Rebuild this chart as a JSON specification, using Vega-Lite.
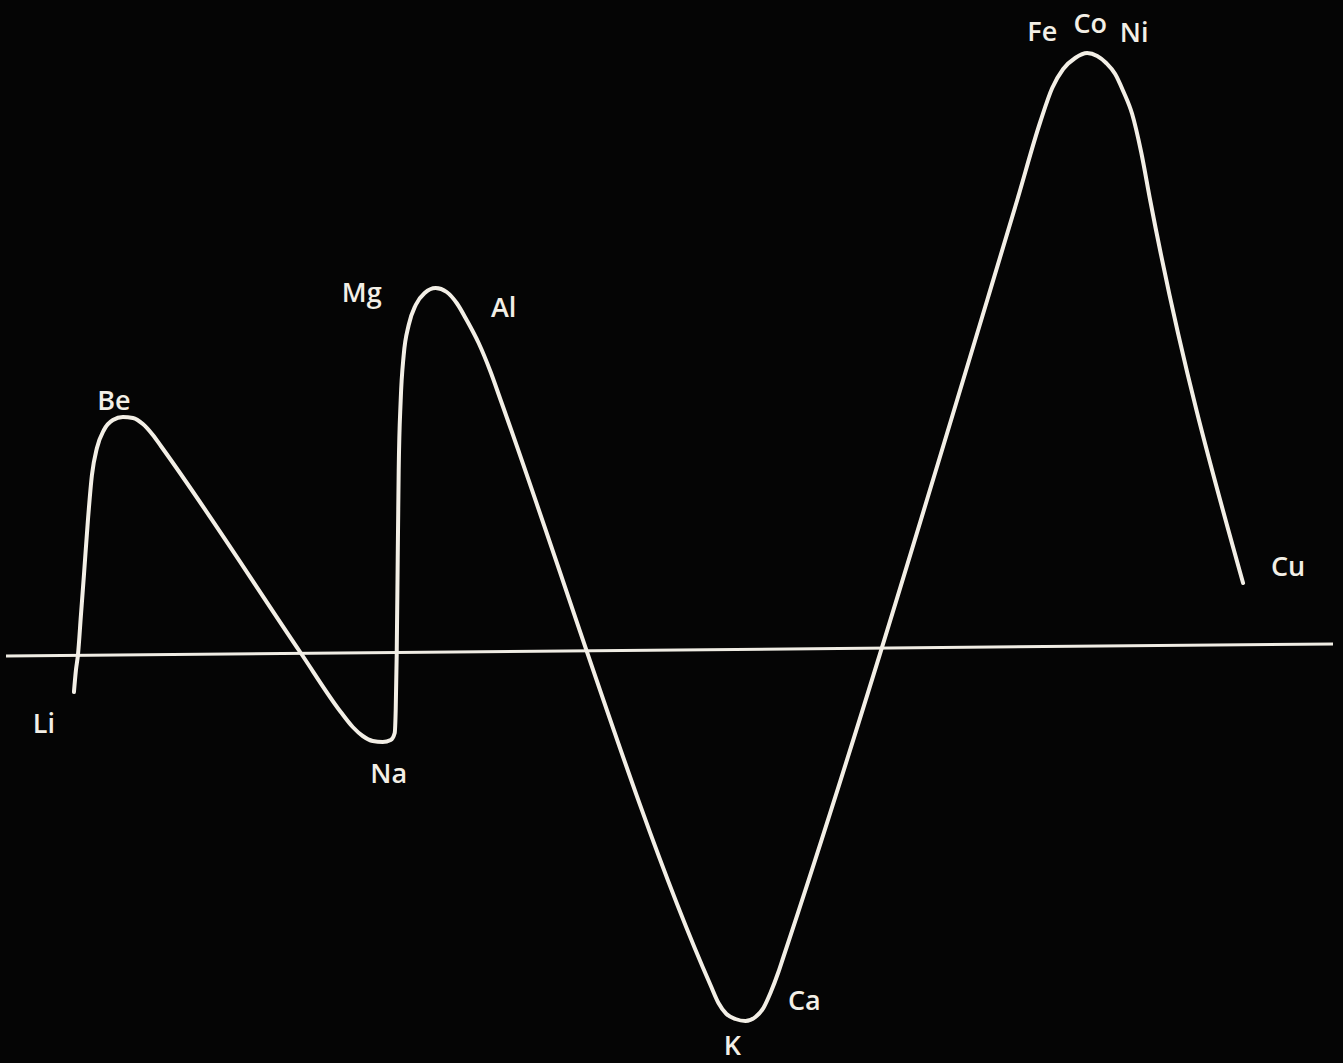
{
  "$schema": "https://vega.github.io/schema/vega-lite/v6.json",
  "width": 1343,
  "height": 1063,
  "autosize": {"type": "fit", "contains": "padding"},
  "padding": 0,
  "background": "#050505",
  "config": {"view": {"stroke": null}},
  "datasets": {
    "curve": [
      {"i": 1, "x": 73, "v": -37}, {"i": 2, "x": 75, "v": -15}, {"i": 3, "x": 77, "v": 0},
      {"i": 4, "x": 80, "v": 40}, {"i": 5, "x": 83, "v": 80}, {"i": 6, "x": 87, "v": 135},
      {"i": 7, "x": 91, "v": 180}, {"i": 8, "x": 96, "v": 207}, {"i": 9, "x": 103, "v": 225},
      {"i": 10, "x": 112, "v": 235}, {"i": 11, "x": 122, "v": 238}, {"i": 12, "x": 132, "v": 237},
      {"i": 13, "x": 142, "v": 231}, {"i": 14, "x": 152, "v": 220}, {"i": 15, "x": 160, "v": 209},
      {"i": 16, "x": 300, "v": 2}, {"i": 17, "x": 340, "v": -57}, {"i": 18, "x": 352, "v": -72},
      {"i": 19, "x": 362, "v": -81}, {"i": 20, "x": 372, "v": -86}, {"i": 21, "x": 382, "v": -87},
      {"i": 22, "x": 390, "v": -85}, {"i": 23, "x": 394, "v": -78}, {"i": 24, "x": 395, "v": -55},
      {"i": 25, "x": 396, "v": 0}, {"i": 26, "x": 397, "v": 95}, {"i": 27, "x": 398, "v": 185},
      {"i": 28, "x": 400, "v": 255}, {"i": 29, "x": 403, "v": 300}, {"i": 30, "x": 408, "v": 330},
      {"i": 31, "x": 415, "v": 350}, {"i": 32, "x": 424, "v": 362}, {"i": 33, "x": 435, "v": 367},
      {"i": 34, "x": 446, "v": 363}, {"i": 35, "x": 456, "v": 352}, {"i": 36, "x": 466, "v": 335},
      {"i": 37, "x": 478, "v": 312}, {"i": 38, "x": 490, "v": 283}, {"i": 39, "x": 500, "v": 255},
      {"i": 40, "x": 710, "v": -330}, {"i": 41, "x": 718, "v": -348}, {"i": 42, "x": 726, "v": -359},
      {"i": 43, "x": 735, "v": -364}, {"i": 44, "x": 745, "v": -366}, {"i": 45, "x": 755, "v": -362},
      {"i": 46, "x": 763, "v": -353}, {"i": 47, "x": 770, "v": -338}, {"i": 48, "x": 778, "v": -317},
      {"i": 49, "x": 783, "v": -302}, {"i": 50, "x": 987, "v": 355}, {"i": 51, "x": 1017, "v": 455},
      {"i": 52, "x": 1040, "v": 533}, {"i": 53, "x": 1052, "v": 567}, {"i": 54, "x": 1063, "v": 586},
      {"i": 55, "x": 1075, "v": 597}, {"i": 56, "x": 1087, "v": 602}, {"i": 57, "x": 1097, "v": 599},
      {"i": 58, "x": 1106, "v": 592}, {"i": 59, "x": 1115, "v": 581}, {"i": 60, "x": 1123, "v": 564},
      {"i": 61, "x": 1132, "v": 541}, {"i": 62, "x": 1141, "v": 503}, {"i": 63, "x": 1150, "v": 455},
      {"i": 64, "x": 1243, "v": 72}
    ],
    "axisline": [
      {"x": 5, "v": -1}, {"x": 1333, "v": 11}
    ],
    "labels": [
      {"el": "Li", "x": 43, "v": -70},
      {"el": "Be", "x": 113, "v": 253},
      {"el": "Na", "x": 388, "v": -120},
      {"el": "Mg", "x": 361, "v": 361},
      {"el": "Al", "x": 503, "v": 346},
      {"el": "K", "x": 732, "v": -392},
      {"el": "Ca", "x": 804, "v": -347},
      {"el": "Fe", "x": 1042, "v": 622},
      {"el": "Co", "x": 1090, "v": 630},
      {"el": "Ni", "x": 1134, "v": 621},
      {"el": "Cu", "x": 1288, "v": 87}
    ]
  },
  "encoding": {
    "x": {"field": "x", "type": "quantitative", "scale": {"domain": [0, 1343], "nice": false, "zero": false}, "axis": null},
    "y": {"field": "v", "type": "quantitative", "scale": {"domain": [-408, 655], "nice": false, "zero": false}, "axis": null}
  },
  "layer": [
    {
      "data": {"name": "axisline"},
      "mark": {"type": "line", "color": "#f0ede4", "strokeWidth": 3}
    },
    {
      "data": {"name": "curve"},
      "mark": {"type": "line", "color": "#f3efe6", "strokeWidth": 4, "interpolate": "monotone", "strokeJoin": "round", "strokeCap": "round"},
      "encoding": {"order": {"field": "i", "type": "quantitative"}}
    },
    {
      "data": {"name": "labels"},
      "mark": {"type": "text", "color": "#f3efe6", "font": "Open Sans", "fontSize": 27, "fontWeight": 600, "align": "center", "baseline": "middle"},
      "encoding": {"text": {"field": "el", "type": "nominal"}}
    }
  ]
}
